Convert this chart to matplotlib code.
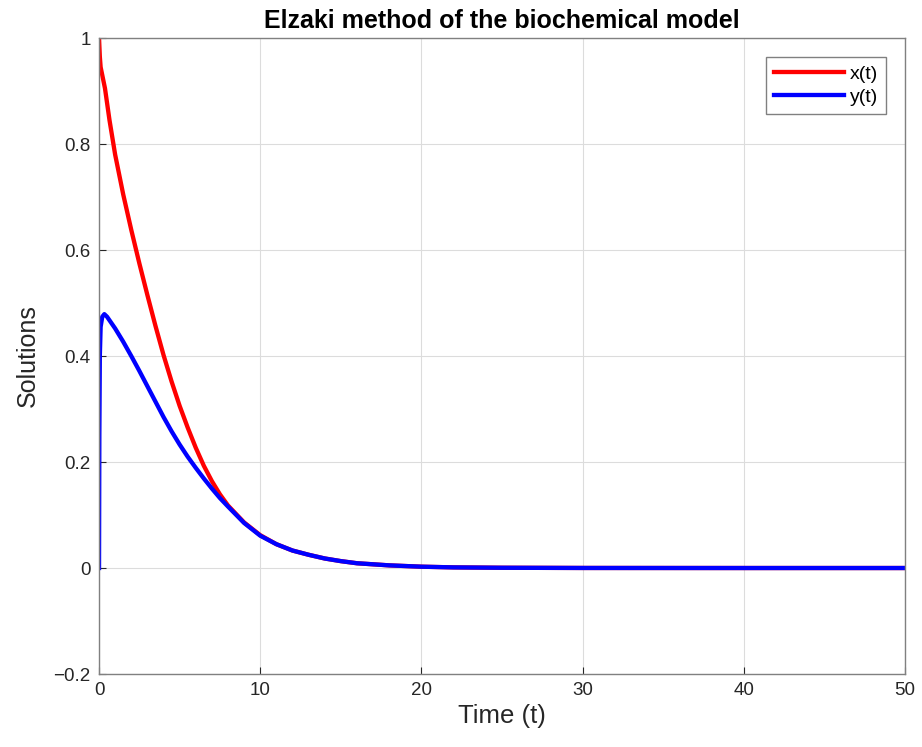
import numpy as np
import matplotlib
matplotlib.use("Agg")
import matplotlib.pyplot as plt

# values
t_x = [0, 0.05, 0.1, 0.37, 0.65, 1, 1.5, 2, 2.5, 3, 3.5, 4, 4.5, 5, 5.5, 6, 6.5, 7, 7.5, 8, 9, 10,
       11, 12, 13, 14, 15, 16, 17, 18, 20, 22, 25, 30, 40, 50]
x_vals = [1.0, 0.965, 0.945, 0.905, 0.845, 0.78, 0.705, 0.638, 0.575, 0.515, 0.457, 0.402, 0.352,
          0.306, 0.265, 0.227, 0.193, 0.164, 0.139, 0.118, 0.086, 0.062,
          0.045, 0.033, 0.025, 0.018, 0.013, 0.009, 0.007, 0.005, 0.0025, 0.0012, 0.0005, 0.0001, 0, 0]

t_y = [0, 0.02, 0.05, 0.1, 0.2, 0.33, 0.5, 1, 1.5, 2, 2.5, 3, 3.5, 4, 4.5, 5, 5.5, 6, 6.5, 7, 7.5, 8, 9, 10,
       11, 12, 13, 14, 15, 16, 17, 18, 20, 22, 25, 30, 40, 50]
y_vals = [0, 0.25, 0.4, 0.455, 0.474, 0.479, 0.474, 0.452, 0.427, 0.4, 0.372, 0.343, 0.314, 0.285,
          0.258, 0.233, 0.21, 0.189, 0.169, 0.15, 0.132, 0.116, 0.085, 0.061,
          0.045, 0.033, 0.025, 0.018, 0.013, 0.009, 0.007, 0.005, 0.0025, 0.0012, 0.0005, 0.0001, 0, 0]

x_ticks = [0, 10, 20, 30, 40, 50]
y_ticks = [-0.2, 0, 0.2, 0.4, 0.6, 0.8, 1]
y_tick_labels = ["\u22120.2", "0", "0.2", "0.4", "0.6", "0.8", "1"]

plt.rcParams["font.family"] = ["Liberation Sans", "DejaVu Sans"]

fig = plt.figure(figsize=(9.22, 7.47), dpi=100)
ax = fig.add_axes([0.1074, 0.0977, 0.8742, 0.8514])

ax.plot(t_x, x_vals, color="#ff0000", lw=3.1, label="x(t)")
ax.plot(t_y, y_vals, color="#0000ff", lw=3.1, label="y(t)")

ax.set_xlim(0, 50)
ax.set_ylim(-0.2, 1)
ax.set_xticks(x_ticks)
ax.set_yticks(y_ticks)
ax.set_yticklabels(y_tick_labels)
ax.grid(True, color="#dcdcdc", lw=0.8)
ax.set_axisbelow(True)
ax.tick_params(direction="in", length=5, labelsize=13.5, colors="#262626", pad=6)
for s in ax.spines.values():
    s.set_color("#808080")
    s.set_linewidth(1.0)

ax.set_xlabel("Time (t)", fontsize=18.5, color="#262626", labelpad=3)
ax.set_ylabel("Solutions", fontsize=18, color="#262626", labelpad=10)
ax.set_title("Elzaki method of the biochemical model", fontsize=18, fontweight="bold", pad=7)

leg = ax.legend(loc="upper right", fontsize=14, fancybox=False, framealpha=1,
                edgecolor="#808080", handlelength=3.6, borderaxespad=1.0,
                handletextpad=0.3, labelspacing=0.3, borderpad=0.4)
leg.get_frame().set_linewidth(1.0)

fig.savefig("out.png", dpi=100)
